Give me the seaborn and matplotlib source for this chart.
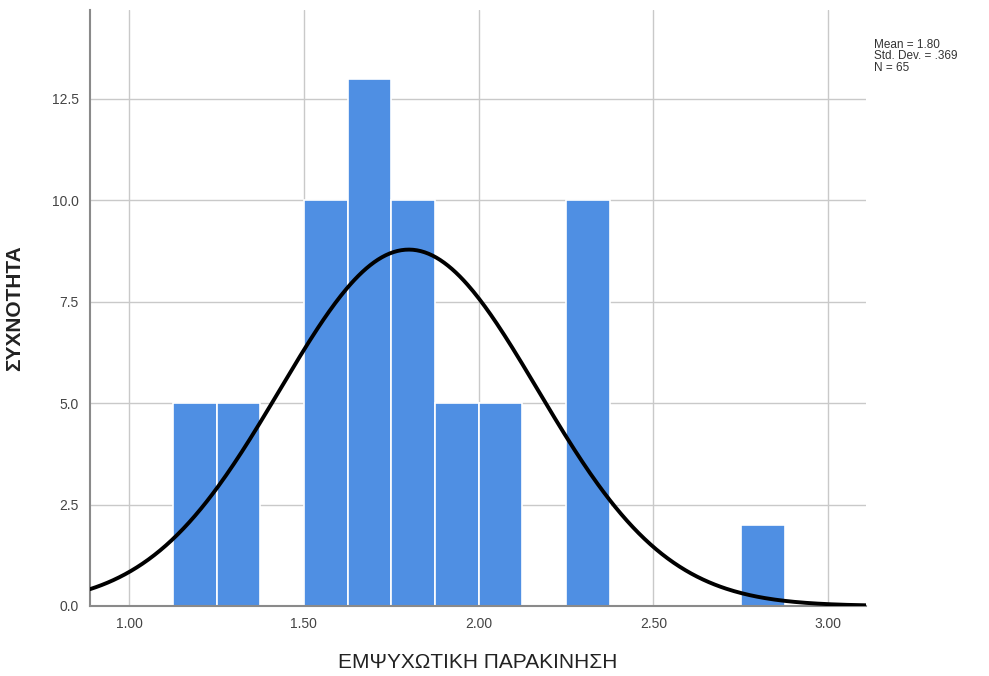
import numpy as np
import pandas as pd
import matplotlib
matplotlib.use("Agg")
import matplotlib.pyplot as plt
from matplotlib.ticker import FormatStrFormatter
import seaborn as sns

# Histogram bins (width 0.125) and frequencies
bin_edges = [1.125, 1.25, 1.375, 1.5, 1.625, 1.75, 1.875, 2.0, 2.125,
             2.25, 2.375, 2.5, 2.625, 2.75, 2.875]
frequencies = [5, 5, 0, 10, 13, 10, 5, 5, 0, 10, 0, 0, 0, 2]

# Summary statistics
mean_val = 1.80
sd_val = 0.369
n_obs = 65

x_ticks = [1.00, 1.50, 2.00, 2.50, 3.00]
y_ticks = [0.0, 2.5, 5.0, 7.5, 10.0, 12.5]

x_label = "ΕΜΨΥΧΩΤΙΚΗ ΠΑΡΑΚΙΝΗΣΗ"
y_label = "ΣΥΧΝΟΤΗΤΑ"
stats_text = "Mean = 1.80\nStd. Dev. = .369\nN = 65"

sns.set_style("white")
plt.rcParams["font.family"] = ["Liberation Sans", "DejaVu Sans"]

fig = plt.figure(figsize=(9.89, 6.76), dpi=100)
ax = fig.add_axes([0.091, 0.1036, 0.785, 0.881])

centers = [(a + b) / 2 for a, b in zip(bin_edges[:-1], bin_edges[1:])]
df = pd.DataFrame({"value": centers, "count": frequencies})

xlim = (0.888, 3.109)
ax.set_xlim(*xlim)
ax.set_ylim(0, 14.68)
ax.set_xticks(x_ticks)
ax.set_yticks(y_ticks)
ax.grid(True, color="#c9c9c9", linewidth=1.0, zorder=0)
ax.set_axisbelow(True)

sns.histplot(data=df, x="value", weights="count", bins=bin_edges,
             color="#4f8fe3", alpha=1.0, edgecolor="white", linewidth=1.2,
             ax=ax, zorder=2)

# Fitted normal curve scaled to counts
bw = bin_edges[1] - bin_edges[0]
xs = np.linspace(xlim[0], xlim[1], 400)
ys = n_obs * bw / (sd_val * np.sqrt(2 * np.pi)) * np.exp(-0.5 * ((xs - mean_val) / sd_val) ** 2)
sns.lineplot(x=xs, y=ys, color="black", linewidth=2.8, ax=ax, zorder=3)

ax.xaxis.set_major_formatter(FormatStrFormatter("%.2f"))
ax.yaxis.set_major_formatter(FormatStrFormatter("%.1f"))
ax.tick_params(axis="both", length=0, labelsize=10, labelcolor="#444444", pad=8)

for side in ("top", "right"):
    ax.spines[side].set_visible(False)
for side in ("left", "bottom"):
    ax.spines[side].set_color("#8a8a8a")
    ax.spines[side].set_linewidth(1.5)

ax.set_xlabel(x_label, fontsize=15, color="#222222", labelpad=16)
ax.set_ylabel(y_label, fontsize=15, fontweight="bold", color="#222222", labelpad=20)

fig.text(0.884, 0.943, stats_text, fontsize=8.5, color="#333333",
         va="top", ha="left", linespacing=0.95)

fig.savefig("out.png", dpi=100, facecolor="white")
